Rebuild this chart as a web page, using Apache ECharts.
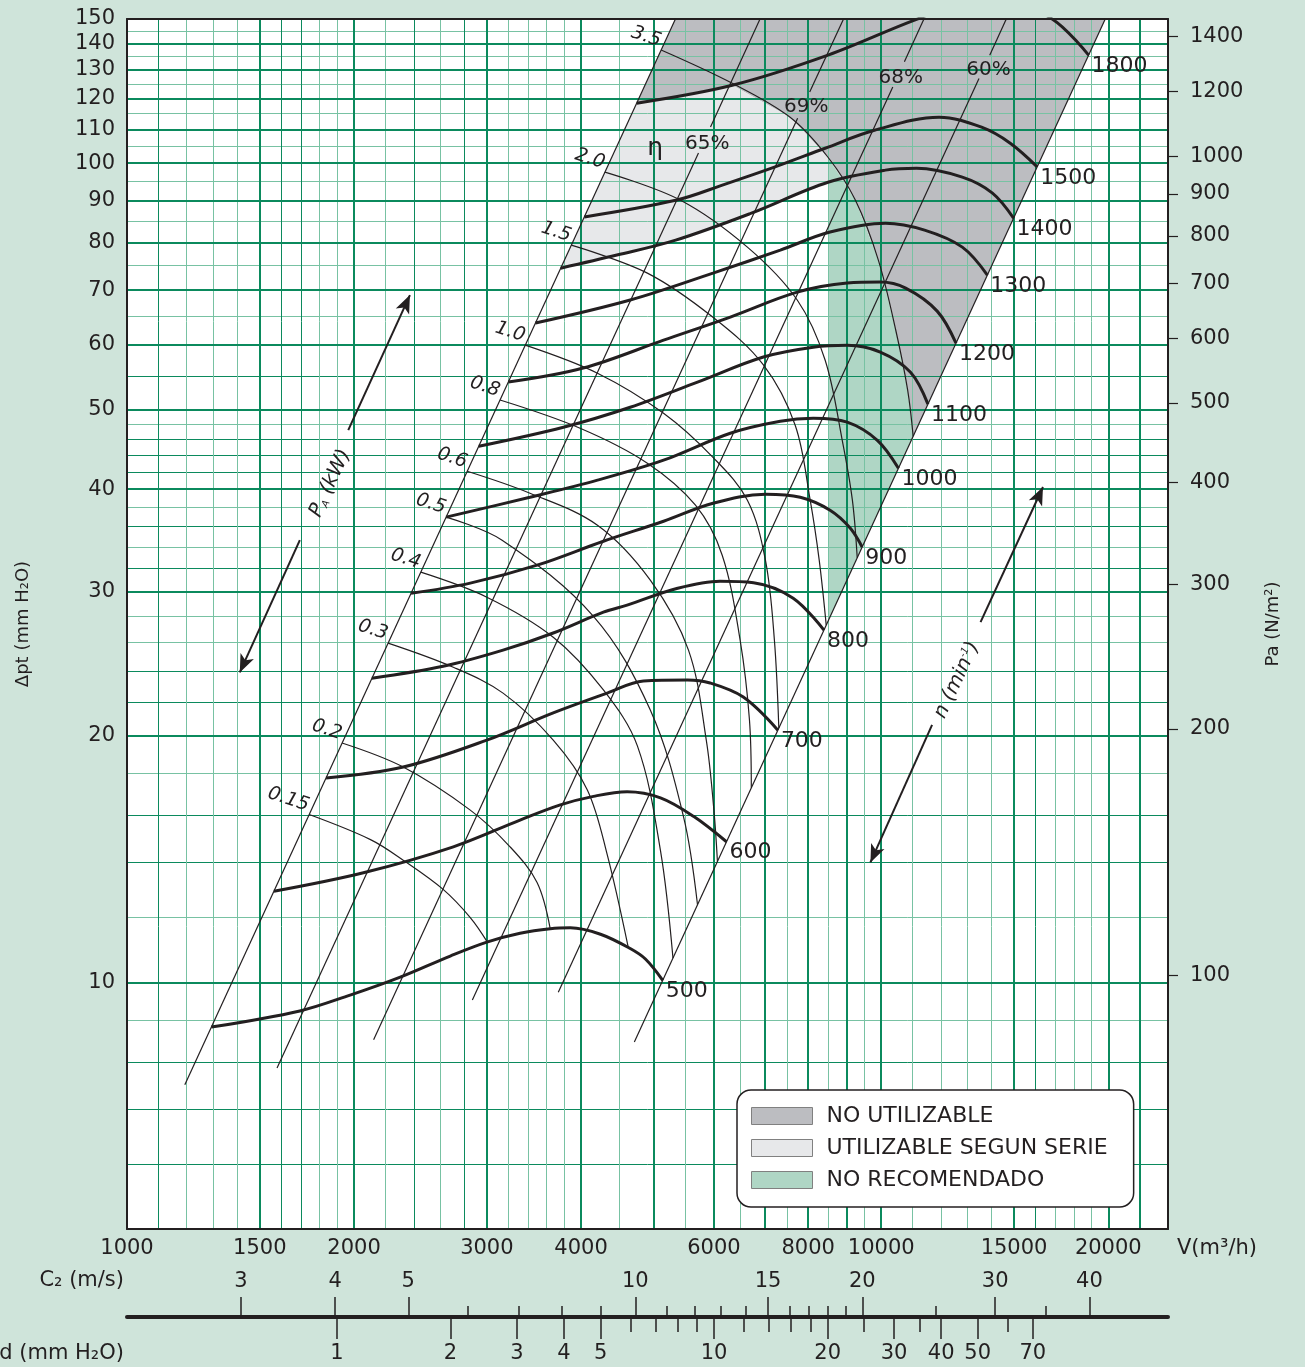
<!DOCTYPE html>
<html><head><meta charset="utf-8">
<script src="https://cdn.jsdelivr.net/npm/echarts@6/dist/echarts.min.js"></script>
<style>html,body{margin:0;padding:0;background:#cfe4da;}#c{width:1305px;height:1367px;}</style>
</head><body><div id="c"></div>
<script>
// ---------------- DATA ----------------
// axis tick labels
const xLabelValues = [1000,1500,2000,3000,4000,6000,8000,10000,15000,20000];
const yLabelValues = [10,20,30,40,50,60,70,80,90,100,110,120,130,140,150];
const paLabelValues = [100,200,300,400,500,600,700,800,900,1000,1200,1400];
const c2Major = [3,4,5,10,15,20,30,40];
const c2Minor = [6,7,8,9,11,12,13,14,16,17,18,19,25,35];
const pdMajor = [1,2,3,4,5,10,20,30,40,50,70];
const pdMinor = [6,7,8,9,12,14,16,18,25,35,60];
// grid lines
const xGridMajor = [1500,2000,3000,4000,5000,6000,7000,8000,9000,10000,15000,20000,22000];
const xGridDark = [1100,1600,1700,2400,2800,16000];
const xGridLight = [1200,1300,1400,1800,1900,2200,2600,3200,3400,3600,3800,4500,5500,6500,7500,8500,9500,11000,12000,13000,14000,17000,18000,19000];
const yGridMajor = [10,20,30,40,50,60,70,80,90,100,110,120,130,140];
const yGridDark = [6,7,8,14,16,22,24,32,36,42,44,46,55];
const yGridLight = [9,12,18,26,28,34,38,48,65,75,85,95,105,115,125,135,145];

// fan speed curves  [V m3/h, dpt mmH2O]
const speedLabels = ['500','600','700','800','900','1000','1100','1200','1300','1400','1500','1800'];
const curve500 = [[1294,8.82],[1695,9.23],[1976,9.65],[2303,10.15],[2683,10.77],[3000,11.2],[3320,11.48],[3640,11.63],[3870,11.66],[4244,11.45],[4647,11.0],[4868,10.68],[5132,10.06]];
const curve600 = [[1566,12.92],[2058,13.61],[2708,14.64],[3320,15.78],[3754,16.47],[4154,16.87],[4603,17.09],[5097,16.8],[5638,15.95],[6235,14.85]];
const curve700 = [[1836,17.76],[2324,18.32],[3000,19.76],[3674,21.33],[4333,22.55],[4838,23.33],[5534,23.4],[5931,23.2],[6563,22.3],[7294,20.32]];
const curve800 = [[2112,23.52],[2625,24.32],[3152,25.45],[3674,26.7],[4282,28.31],[4603,28.88],[5371,30.28],[6115,30.89],[6771,30.76],[7643,29.45],[8395,26.92]];
const curve900 = [[2380,29.85],[2852,30.72],[3497,32.31],[4282,34.56],[5145,36.56],[5983,38.46],[7022,39.44],[7810,39.1],[8554,37.7],[9100,35.84],[9434,34.0]];
const curve1000 = [[2649,36.98],[3422,39.11],[4205,41.03],[5145,43.4],[6308,46.82],[7348,48.42],[8125,48.84],[9014,48.3],[9882,45.9],[10539,42.43]];
const curve1100 = [[2927,45.14],[3790,47.62],[4647,50.37],[5707,54.06],[6979,58.01],[8125,59.63],[9014,59.95],[9971,58.82],[10935,55.58],[11533,50.81]];
const curve1200 = [[3203,54.06],[4026,56.23],[5145,60.82],[6308,64.9],[7738,69.6],[9014,71.4],[9971,71.6],[10774,70.39],[11862,65.99],[12564,60.3]];
const curve1300 = [[3480,63.81],[4647,68.08],[5983,73.43],[7348,78.34],[8554,82.41],[10129,84.49],[11414,82.87],[12808,78.99],[13827,73.03]];
const curve1400 = [[3758,74.45],[4462,77.25],[5339,80.56],[6729,86.92],[8500,94.8],[10129,98.09],[11138,98.6],[12808,96.17],[14043,91.95],[14978,85.69]];
const curve1500 = [[4040,86.0],[5339,90.1],[6212,94.3],[7217,98.9],[8425,104.3],[9794,109.7],[11931,113.8],[13583,110.66],[14826,105.8],[16098,98.99]];
const curve1800 = [[4740,118.4],[6346,124.5],[8500,135.5],[11069,149.5],[14000,161],[16850,150],[18834,135.5]];

// absorbed power curves (kW)
const powerLabels = ['0.15','0.2','0.3','0.4','0.5','0.6','0.8','1.0','1.5','2.0','3.5'];
const arc015 = [[1744,16.03],[2103,14.94],[2324,14.1],[2625,12.99],[2852,12.0],[3005,11.2]];
const arc02 = [[1928,19.6],[2324,18.32],[2852,16.23],[3220,14.64],[3497,13.24],[3640,11.63]];
const arc03 = [[2219,25.95],[2708,24.25],[3152,22.55],[3674,19.76],[4077,17.18],[4333,14.31],[4618,11.05]];
const arc04 = [[2452,31.68],[3000,29.53],[3674,26.39],[4282,22.75],[4750,19.44],[5097,14.48],[5295,10.71]];
const arc05 = [[2649,36.98],[3143,34.66],[4154,27.98],[4941,21.5],[5468,15.94],[5707,12.44]];
const arc06 = [[2825,42.07],[3422,39.55],[4205,36.15],[4941,30.98],[5552,25.45],[5862,19.76],[6000,16.23],[6065,14.05]];
const arc08 = [[3123,51.4],[3988,47.48],[4897,43.04],[5672,38.24],[6154,33.23],[6500,26.17],[6688,20.91],[6726,17.28]];
const arc10 = [[3373,59.97],[4205,55.42],[5145,49.52],[5983,43.75],[6646,38.79],[7022,32.77],[7217,26.17],[7315,20.44]];
const arc15 = [[3882,79.43],[4897,73.43],[5983,64.85],[6979,56.72],[7690,47.88],[8050,38.79],[8275,32.77],[8454,27.3]];
const arc20 = [[4302,97.54],[5419,90.13],[6646,79.0],[7738,68.08],[8425,57.52],[8878,45.9],[9157,38.79],[9293,32.99]];
const arc35 = [[5107,137.48],[6346,125.2],[7571,113.8],[8500,101.7],[9243,90.1],[9912,76.16],[10452,62.58],[10839,52.88],[11024,46.42]];

// straight quadratic lines (efficiency / limits); b..e have a gap for their % label
const lineL = [[1193,7.5],[5335,150]];
const lineB = [[1581,7.86],[5724,102.9],[5938,110.75],[6907,150]];
const lineC = [[2123,8.51],[7747,113.5],[8038,122.2],[8913,150]];
const lineD = [[2870,9.52],[10359,123.9],[10733,133],[11392,150]];
const lineE = [[3731,9.73],[13478,126.9],[13927,135.5],[14649,150]];
const lineR = [[4706,8.46],[19816,150]];
const greenBottom = [8500,27.6];

// efficiency labels
const effText = ['η','65%','69%','68%','60%'];
const effPos = [[5016,104.3],[5879,105.7],[7952,117.05],[10613,127.0],[13875,129.9]];

// arrows
const paArrows = [[[1695,34.66],[1411,23.9]],[[1965,47.22],[2372,69.03]]];
const nArrows = [[[11679,20.62],[9676,14.01]],[[13542,27.53],[16385,40.25]]];
const paLabelPos = [1860,40.68];
const nLabelPos = [12604,23.39];

const legendNames = ['NO UTILIZABLE','UTILIZABLE SEGUN SERIE','NO RECOMENDADO'];

// ---------------- STYLE ----------------
const FONT = "'DejaVu Sans', 'Liberation Sans', sans-serif";
const INK = '#231f20';
const DARK = '#0b8a5d';
const LIGHT = '#78c2a3';
const XMIN = 1000, XMAX = 24000, YMIN = 5, YMAX = 150;
const C2MIN = 2.1186, C2MAX = 50.85, PDMIN = 0.2774, PDMAX = 159.8;

function gridX(values, color, width) {
  return {type:'log', logBase:10, gridIndex:0, min:XMIN, max:XMAX, position:'bottom', z:2,
    axisLine:{show:false, onZero:false}, axisTick:{show:false, customValues:values}, axisLabel:{show:false},
    splitLine:{show:true, lineStyle:{color:color, width:width}}};
}
function gridY(values, color, width) {
  return {type:'log', logBase:10, gridIndex:0, min:YMIN, max:YMAX, position:'left', z:2,
    axisLine:{show:false, onZero:false}, axisTick:{show:false, customValues:values}, axisLabel:{show:false},
    splitLine:{show:true, lineStyle:{color:color, width:width}}};
}
function nameAxis(gridIndex, min, max, position, offset, name, loc, gap) {
  return {type:'log', gridIndex:gridIndex, min:min, max:max, position:position, offset:offset,
    axisLine:{show:false, onZero:false}, axisTick:{show:false}, axisLabel:{show:false}, splitLine:{show:false},
    name:name, nameLocation:loc, nameGap:gap,
    nameTextStyle:{fontSize:21, color:INK, fontFamily:FONT, verticalAlign:'middle'}};
}
const fmt = v => String(Math.round(v));
const LBL = {fontSize:21, color:INK, fontFamily:FONT};

const xAxes = [
  Object.assign(gridX(xGridMajor, DARK, 2), {
    axisLine:{show:true, onZero:false, lineStyle:{color:INK, width:2}},
    axisLabel:Object.assign({show:true, customValues:xLabelValues, formatter:fmt, margin:9}, LBL), z:3}),
  gridX(xGridDark, DARK, 1),
  gridX(xGridLight, LIGHT, 1),
  {type:'log', gridIndex:0, min:XMIN, max:XMAX, position:'top', z:3,
    axisLine:{show:true, onZero:false, lineStyle:{color:INK, width:2}}, axisTick:{show:false}, axisLabel:{show:false}, splitLine:{show:false}},
  nameAxis(0, XMIN, XMAX, 'bottom', 20, 'V(m³/h)', 'end', 9),
  // C2 scale
  {type:'log', gridIndex:1, min:C2MIN, max:C2MAX, position:'top',
    axisLine:{show:true, onZero:false, lineStyle:{color:INK, width:4}},
    axisTick:{show:true, customValues:c2Major, length:20, lineStyle:{color:INK, width:1.5}},
    axisLabel:Object.assign({show:true, customValues:c2Major, formatter:fmt, margin:25}, LBL),
    splitLine:{show:false}},
  {type:'log', gridIndex:1, min:C2MIN, max:C2MAX, position:'top',
    axisLine:{show:false, onZero:false}, axisTick:{show:true, customValues:c2Minor, length:11, lineStyle:{color:INK, width:1.5}},
    axisLabel:{show:false}, splitLine:{show:false}},
  nameAxis(1, C2MIN, C2MAX, 'top', 36, 'C₂ (m/s)', 'start', 3),
  // Pd scale
  {type:'log', gridIndex:1, min:PDMIN, max:PDMAX, position:'bottom',
    axisLine:{show:false, onZero:false},
    axisTick:{show:true, customValues:pdMajor, length:20, lineStyle:{color:INK, width:1.5}},
    axisLabel:Object.assign({show:true, customValues:pdMajor, formatter:fmt, margin:24}, LBL),
    splitLine:{show:false}},
  {type:'log', gridIndex:1, min:PDMIN, max:PDMAX, position:'bottom',
    axisLine:{show:false, onZero:false}, axisTick:{show:true, customValues:pdMinor, length:13, lineStyle:{color:INK, width:1.5}},
    axisLabel:{show:false}, splitLine:{show:false}},
  nameAxis(1, PDMIN, PDMAX, 'bottom', 35, 'Pd (mm H₂O)', 'start', 3)
];

const yAxes = [
  Object.assign(gridY(yGridMajor, DARK, 2), {
    axisLine:{show:true, onZero:false, lineStyle:{color:INK, width:2}},
    axisLabel:Object.assign({show:true, customValues:yLabelValues, formatter:fmt, margin:12}, LBL),
    name:'Δpt (mm H₂O)', nameLocation:'middle', nameRotate:90, nameGap:95,
    nameTextStyle:{fontSize:18, color:INK, fontFamily:FONT}, z:3}),
  gridY(yGridDark, DARK, 1),
  gridY(yGridLight, LIGHT, 1),
  {type:'log', gridIndex:0, min:YMIN*9.81, max:YMAX*9.81, position:'right', z:3,
    axisLine:{show:true, onZero:false, lineStyle:{color:INK, width:2}},
    axisTick:{show:true, customValues:paLabelValues, length:10, lineStyle:{color:INK, width:1.2}},
    axisLabel:Object.assign({show:true, customValues:paLabelValues, formatter:fmt, margin:22}, LBL),
    splitLine:{show:false}, name:'Pa (N/m²)', nameLocation:'middle', nameRotate:90, nameGap:96,
    nameTextStyle:{fontSize:18, color:INK, fontFamily:FONT}},
  {type:'value', gridIndex:1, show:false, min:0, max:1}
];

// ---------------- SERIES ----------------
function polygonSeries(name, color, verts) {
  return {type:'custom', name:name, coordinateSystem:'cartesian2d', xAxisIndex:0, yAxisIndex:0,
    z:1, silent:true, clip:true, itemStyle:{color:color, borderColor:'#7d7d7d', borderWidth:1},
    data:[verts[0]],
    renderItem:(params, api) => ({type:'polygon', shape:{points: verts.map(v => api.coord(v))}, style:{fill:color}})};
}
const darkVerts = [lineL[1], ...curve1800.slice(0,2), ...arc35.slice(2), lineR[1]];
const lightVerts = [...curve1800.slice(0,2), ...arc35.slice(2,4), ...curve1400.slice(0,5).reverse()];
const greenVerts = [...arc35.slice(3), greenBottom];

const series = [];
series.push(polygonSeries(legendNames[0], '#bcbdc1', darkVerts));
series.push(polygonSeries(legendNames[1], '#e7e8ea', lightVerts));
series.push(polygonSeries(legendNames[2], '#afd6c5', greenVerts));

function thinLine(data) {
  return {type:'line', xAxisIndex:0, yAxisIndex:0, data:data, symbol:'none', showSymbol:false,
    lineStyle:{color:INK, width:1.2}, z:3, silent:true};
}
series.push(thinLine(lineL), thinLine(lineR));
[lineB, lineC, lineD, lineE].forEach(l => { series.push(thinLine(l.slice(0,2))); series.push(thinLine(l.slice(2,4))); });

const arcs = [arc015, arc02, arc03, arc04, arc05, arc06, arc08, arc10, arc15, arc20, arc35];
arcs.forEach(a => series.push(Object.assign(thinLine(a), {smooth:0.35})));

const curves = [curve500,curve600,curve700,curve800,curve900,curve1000,curve1100,curve1200,curve1300,curve1400,curve1500,curve1800];
curves.forEach((c, i) => series.push({
  type:'line', name:'n'+speedLabels[i], xAxisIndex:0, yAxisIndex:0, data:c, smooth:0.35, symbol:'none', showSymbol:false,
  lineStyle:{color:INK, width:3}, z:4, silent:true,
  endLabel:{show:true, formatter:speedLabels[i], distance:3, offset:[0,11], fontSize:22, color:INK, fontFamily:FONT}
}));

const labelItem = {color:'rgba(0,0,0,0)', opacity:1};
// power labels
series.push({type:'scatter', xAxisIndex:0, yAxisIndex:0, symbolSize:1, itemStyle:labelItem, silent:true, z:5,
  data: arcs.map((a,i) => ({name:powerLabels[i], value:a[0]})),
  label:{show:true, formatter:'{b}', position:'left', distance:3, offset:[0,-9], rotate:-18, opacity:1,
    textBorderWidth:0, fontStyle:'italic', fontSize:19, color:INK, fontFamily:FONT}});
// efficiency labels
series.push({type:'scatter', xAxisIndex:0, yAxisIndex:0, symbolSize:1, itemStyle:labelItem, silent:true, z:5,
  data: effPos.map((p,i) => ({name:effText[i], value:p})),
  label:{show:true, formatter: p => p.name === 'η' ? '{e|η}' : p.name, position:'inside', opacity:1, textBorderWidth:0,
    fontSize:20, color:INK, fontFamily:FONT, rich:{e:{fontSize:25, color:INK, fontFamily:FONT}}}});
// arrow labels
series.push({type:'scatter', xAxisIndex:0, yAxisIndex:0, symbolSize:1, itemStyle:labelItem, silent:true, z:5,
  data:[{name:'pa', value:paLabelPos}, {name:'n', value:nLabelPos}],
  label:{show:true, position:'inside', rotate:65, color:INK, fontFamily:FONT, opacity:1, textBorderWidth:0,
    formatter: p => p.name === 'pa' ? '{a|P}{s|A}{a| (kW)}' : '{a|n (min}{u|-1}{a|)}',
    rich:{a:{fontSize:20, fontStyle:'italic', color:INK, fontFamily:FONT},
          s:{fontSize:10, fontStyle:'italic', color:INK, fontFamily:FONT, verticalAlign:'bottom', padding:[8,0,0,0]},
          u:{fontSize:10, fontStyle:'italic', color:INK, fontFamily:FONT, verticalAlign:'top', padding:[0,0,8,0]}}}});
// arrows
series.push({type:'line', xAxisIndex:0, yAxisIndex:0, data:[], z:5, silent:true,
  markLine:{silent:true, symbol:['none','arrow'], symbolSize:[11,18], label:{show:false},
    lineStyle:{color:INK, width:2, type:'solid'}, emphasis:{disabled:true},
    data:[...paArrows, ...nArrows].map(a => [{coord:a[0]}, {coord:a[1]}])}});

const option = {
  backgroundColor:'#cfe4da',
  animation:false,
  grid:[
    {left:127, right:137, top:19, bottom:138, show:true, backgroundColor:'#ffffff', borderWidth:0, z:0,
      containLabel:false, outerBoundsMode:'none'},
    {left:127, right:137, top:1317, height:2, show:false, containLabel:false, outerBoundsMode:'none'}
  ],
  xAxis:xAxes,
  yAxis:yAxes,
  legend:{show:true, data:legendNames, left:737, top:1090, orient:'vertical', selectedMode:false,
    padding:[15,26,16,14], itemWidth:61, itemHeight:17, itemGap:10, icon:'rect',
    backgroundColor:'#ffffff', borderColor:INK, borderWidth:1.5, borderRadius:14, z:10,
    itemStyle:{borderColor:'#808080', borderWidth:1},
    textStyle:{fontSize:22, lineHeight:17, color:INK, fontFamily:FONT, padding:[0,0,0,9]}},
  series:series
};
const chart = echarts.init(document.getElementById('c'), null, {renderer:'canvas', width:1305, height:1367});
chart.setOption(option);
</script></body></html>
